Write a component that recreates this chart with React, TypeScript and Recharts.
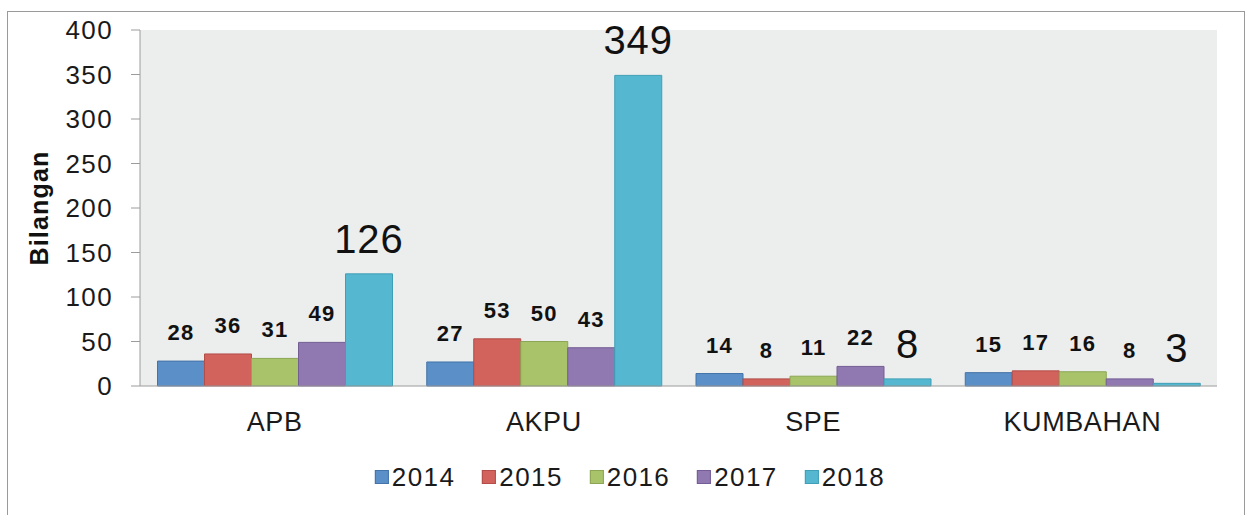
import { Bar, BarChart, CartesianGrid, LabelList, XAxis, YAxis } from "recharts";

const CATEGORIES = ["APB", "AKPU", "SPE", "KUMBAHAN"];
const YEARS = ["2014", "2015", "2016", "2017", "2018"];

const V2014 = [28, 27, 14, 15];
const V2015 = [36, 53, 8, 17];
const V2016 = [31, 50, 11, 16];
const V2017 = [49, 43, 22, 8];
const V2018 = [126, 349, 8, 3];

const Y_TICKS = [0, 50, 100, 150, 200, 250, 300, 350, 400];

const FILLS = ["#5B8FC8", "#D2625C", "#A8C36A", "#9078B1", "#55B8D0"];
const STROKES = ["#4373A8", "#B24D48", "#8BA654", "#745D94", "#3E9FB6"];

const FONT = "'Liberation Sans', Arial, sans-serif";

const rows = CATEGORIES.map((name, i) => ({
  name,
  y2014: V2014[i],
  y2015: V2015[i],
  y2016: V2016[i],
  y2017: V2017[i],
  y2018: V2018[i],
}));

export default function App() {
  return (
    <div style={{ position: "absolute", left: 0, top: 0, width: 1246, height: 515, overflow: "hidden", background: "#fff", fontFamily: FONT }}>
      <div
        style={{
          position: "absolute",
          left: 7,
          top: 11,
          width: 1238,
          height: 600,
          border: "1px solid #9a9a9a",
          boxSizing: "border-box",
        }}
      />
      <BarChart
        width={1246}
        height={515}
        data={rows}
        margin={{ top: 30, right: 29, left: 0, bottom: 0 }}
        barCategoryGap="6.5%"
        barGap={0}
        style={{ position: "absolute", left: 0, top: 0 }}
      >
        <CartesianGrid fill="#ECEDED" stroke="none" horizontal={false} vertical={false} />
        <XAxis
          dataKey="name"
          height={129}
          tickLine={false}
          tickSize={0}
          tickMargin={26}
          axisLine={{ stroke: "#9c9c9c" }}
          tick={{ fill: "#1a1a1a", fontSize: 27, fontFamily: FONT, letterSpacing: 0.6 }}
        />
        <YAxis
          width={140}
          domain={[0, 400]}
          ticks={Y_TICKS}
          interval={0}
          tickSize={9}
          tickMargin={18}
          axisLine={{ stroke: "#9c9c9c" }}
          tickLine={{ stroke: "#9c9c9c" }}
          tick={{ fill: "#1a1a1a", fontSize: 26, fontFamily: FONT, letterSpacing: 1.4 }}
          label={{
            value: "Bilangan",
            angle: -90,
            position: "insideLeft",
            dx: 34,
            style: { fill: "#111", fontSize: 25, fontWeight: "bold", fontFamily: FONT, textAnchor: "middle", letterSpacing: 1.2 },
          }}
        />
        {YEARS.map((year, i) => (
          <Bar
            key={year}
            dataKey={`y${year}`}
            name={year}
            fill={FILLS[i]}
            stroke={STROKES[i]}
            strokeWidth={1}
            isAnimationActive={false}
          >
            {i < 4 ? (
              <LabelList
                dataKey={`y${year}`}
                position="top"
                offset={21}
                style={{ fill: "#111", fontSize: 22, fontWeight: "bold", fontFamily: FONT, letterSpacing: 1.2 }}
              />
            ) : (
              <LabelList
                dataKey={`y${year}`}
                position="top"
                offset={21}
                style={{ fill: "#111", fontSize: 40, fontFamily: FONT, letterSpacing: 1 }}
              />
            )}
          </Bar>
        ))}
      </BarChart>
      <div
        style={{
          position: "absolute",
          left: 630,
          top: 462,
          transform: "translateX(-50%)",
          display: "flex",
          gap: 27,
          whiteSpace: "nowrap",
        }}
      >
        {YEARS.map((year, i) => (
          <div key={year} style={{ display: "flex", alignItems: "center" }}>
            <span
              style={{
                display: "inline-block",
                width: 14,
                height: 14,
                background: FILLS[i],
                border: `1px solid ${STROKES[i]}`,
                boxSizing: "border-box",
                marginRight: 3,
              }}
            />
            <span style={{ fontSize: 26, color: "#1a1a1a", lineHeight: "30px", letterSpacing: 1.4 }}>{year}</span>
          </div>
        ))}
      </div>
    </div>
  );
}
